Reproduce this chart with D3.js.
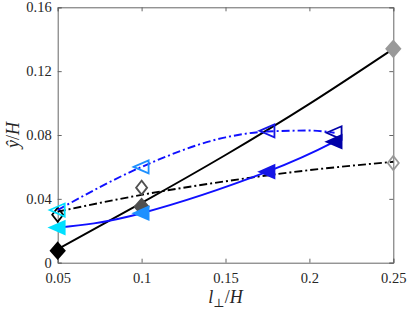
<!DOCTYPE html>
<html><head><meta charset="utf-8">
<script src="https://cdn.jsdelivr.net/npm/d3@7"></script>
<style>body{margin:0;background:#fff}svg{display:block}</style>
</head><body>
<svg id="c" width="407" height="310"></svg>
<script>
// ---- data ----
const xTicks = [0.05, 0.1, 0.15, 0.2, 0.25];
const yTicks = [0, 0.04, 0.08, 0.12, 0.16];
const xTickLabels = ["0.05", "0.1", "0.15", "0.2", "0.25"];
const yTickLabels = ["0", "0.04", "0.08", "0.12", "0.16"];

// diamond series (markers)
const diamondX = [0.05, 0.1, 0.25];
const filledDiamondY = [0.0075, 0.035, 0.134];
const openDiamondY = [0.030, 0.047, 0.0625];
const diamondColors = ["#000000", "#505050", "#999999"];

// triangle series (markers)
const triX = [0.05, 0.1, 0.175, 0.215];
const filledTriY = [0.022, 0.031, 0.057, 0.0758];
const openTriY = [0.033, 0.060, 0.0826, 0.0814];
const triColors = ["#00e0ff", "#1e90ff", "#1515e6", "#0000a8"];

// fitted curves
const fitSolidBlackX = [0.05, 0.1, 0.15, 0.2, 0.25];
const fitSolidBlackY = [0.0085, 0.0375, 0.0675, 0.0995, 0.134];
const fitDashBlackX = [0.05, 0.1, 0.15, 0.2, 0.25];
const fitDashBlackY = [0.032, 0.0425, 0.051, 0.058, 0.0632];
const fitSolidBlueX = [0.05, 0.1, 0.175, 0.215];
const fitSolidBlueY = [0.022, 0.031, 0.057, 0.0758];
const fitDashBlueX = [0.05, 0.1, 0.15, 0.175, 0.2, 0.215];
const fitDashBlueY = [0.033, 0.060, 0.0785, 0.0822, 0.0828, 0.0814];

// ---- layout ----
const svg = d3.select("#c");
const L = 57.7, R = 393.3, T = 7.3, B = 262.7;
const x = d3.scaleLinear().domain([0.05, 0.25]).range([L, R]);
const y = d3.scaleLinear().domain([0, 0.16]).range([B, T]);
const axisColor = "#666";
const textColor = "#262626";
const font = "'Liberation Serif','DejaVu Serif',serif";

// axes (box with inward ticks)
const g = svg.append("g");
g.append("g").attr("transform", `translate(0,${B})`)
  .call(d3.axisBottom(x).tickValues(xTicks).tickSize(-4).tickPadding(10)
    .tickFormat((d, i) => xTickLabels[i]));
g.append("g").attr("transform", `translate(0,${T})`)
  .call(d3.axisTop(x).tickValues(xTicks).tickSize(-4).tickFormat(""));
g.append("g").attr("transform", `translate(${L},0)`)
  .call(d3.axisLeft(y).tickValues(yTicks).tickSize(-4).tickPadding(6)
    .tickFormat((d, i) => yTickLabels[i]));
g.append("g").attr("transform", `translate(${R},0)`)
  .call(d3.axisRight(y).tickValues(yTicks).tickSize(-4).tickFormat(""));
g.selectAll(".domain").attr("stroke", axisColor).attr("stroke-width", 1);
g.selectAll(".tick line").attr("stroke", axisColor);
g.selectAll(".tick text").attr("fill", textColor)
  .style("font-family", font).style("font-size", "14.5px");

// curves
const lineN = d3.line().x(d => x(d[0])).y(d => y(d[1])).curve(d3.curveNatural);
const lineM = d3.line().x(d => x(d[0])).y(d => y(d[1])).curve(d3.curveMonotoneX);
const plotG = svg.append("g");
function curve(xs, ys, color, dash, gen) {
  plotG.append("path").datum(xs.map((v, i) => [v, ys[i]]))
    .attr("d", gen).attr("fill", "none").attr("stroke", color)
    .attr("stroke-width", 1.9).attr("stroke-dasharray", dash || null);
}
const dd = "8,3,2,3";

function diamond(cx, cy, color, filled) {
  const w = filled ? 7 : 5.5, h = filled ? 8 : 7;
  plotG.append("path")
    .attr("d", `M${cx},${cy - h}L${cx + w},${cy}L${cx},${cy + h}L${cx - w},${cy}Z`)
    .attr("fill", filled ? color : "none").attr("stroke", color).attr("stroke-width", 1.8);
}
function tri(cx, cy, color, filled) {
  plotG.append("path")
    .attr("d", `M${cx - 8},${cy}L${cx + 7},${cy - 6.5}L${cx + 7},${cy + 6.5}Z`)
    .attr("fill", filled ? color : "none").attr("stroke", color).attr("stroke-width", 1.8);
}

curve(fitSolidBlackX, fitSolidBlackY, "#000", null, lineN);
diamondX.forEach((v, i) => diamond(x(v), y(filledDiamondY[i]), diamondColors[i], true));
curve(fitDashBlackX, fitDashBlackY, "#000", dd, lineN);
diamondX.forEach((v, i) => diamond(x(v), y(openDiamondY[i]), diamondColors[i], false));
curve(fitSolidBlueX, fitSolidBlueY, "#1010ff", null, lineN);
triX.forEach((v, i) => tri(x(v), y(filledTriY[i]), triColors[i], true));
curve(fitDashBlueX, fitDashBlueY, "#1010ff", dd, lineM);
triX.forEach((v, i) => tri(x(v), y(openTriY[i]), triColors[i], false));

// axis titles
const xt2 = svg.append("text").attr("x", (L + R) / 2).attr("y", 303)
  .attr("text-anchor", "middle").attr("fill", textColor)
  .style("font-family", font).style("font-size", "18px");
xt2.append("tspan").style("font-style", "italic").text("l");
xt2.append("tspan").attr("dy", 4).style("font-size", "12px").text("⊥");
xt2.append("tspan").attr("dy", -4).text("/");
xt2.append("tspan").style("font-style", "italic").text("H");

svg.append("text").attr("transform", `translate(19,${(T + B) / 2}) rotate(-90)`)
  .attr("text-anchor", "middle").attr("fill", textColor)
  .style("font-family", font).style("font-size", "18px")
  .call(t => {
    t.append("tspan").style("font-style", "italic").text("ŷ");
    t.append("tspan").text("/");
    t.append("tspan").style("font-style", "italic").text("H");
  });
</script>
</body></html>
